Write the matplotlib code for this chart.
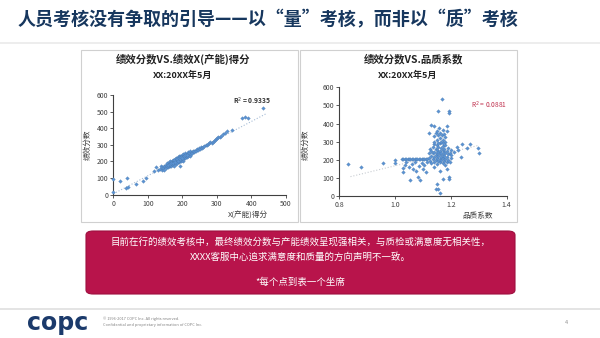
import numpy as np
import matplotlib
matplotlib.use('Agg')
import matplotlib.pyplot as plt
from matplotlib.patches import Rectangle, FancyBboxPatch

plt.rcParams['font.family'] = ['Noto Sans CJK SC', 'DejaVu Sans']

# ---- data ----
# left: X(产能)得分 vs 绩效分数
left_x = [0, 0, 20, 40, 38, 42, 65, 85, 95, 118, 125, 130,
          135, 138, 140, 142, 145, 147, 148, 150, 152, 153, 155, 156, 158, 160, 160,
          162, 163, 165, 165, 167, 168, 170, 170, 172, 173, 174, 175, 176, 177, 178,
          180, 180, 181, 182, 183, 184, 185, 186, 187, 188, 189, 190, 190, 191, 192,
          193, 194, 195, 196, 197, 198, 199, 200, 200, 201, 202, 203, 205, 206, 207,
          208, 210, 211, 212, 214, 215, 216, 218, 220, 221, 223, 225, 227, 229, 231,
          233, 235, 238, 240, 243, 246, 249, 252, 255, 258, 261, 264, 268, 271, 274,
          278, 281, 285, 288, 291, 294, 297, 300, 303, 308, 312, 318, 322, 328, 343,
          372, 381, 389, 434,
          158, 163, 168, 172, 176, 179, 183, 186, 189, 192, 196, 199, 204, 209, 213]
left_y = [95, 15, 85, 100, 40, 45, 65, 85, 100, 140, 165, 150,
          155, 170, 150, 165, 160, 175, 150, 170, 180, 160, 175, 190, 165, 185, 170,
          195, 175, 180, 200, 190, 170, 185, 205, 195, 180, 210, 190, 200, 175, 215,
          195, 205, 185, 220, 200, 210, 190, 225, 205, 215, 195, 230, 210, 200, 220,
          175, 235, 215, 205, 225, 240, 210, 220, 230, 200, 245, 215, 225, 235, 250,
          220, 230, 240, 225, 245, 235, 255, 240, 250, 230, 260, 245, 255, 250, 265,
          255, 260, 270, 262, 275, 270, 280, 278, 285, 282, 290, 295, 298, 300, 305,
          310, 315, 312, 320, 325, 330, 335, 340, 345, 350, 355, 365, 372, 384, 390,
          460, 466, 460, 524,
          178, 186, 192, 188, 206, 196, 212, 202, 222, 212, 228, 218, 232, 238, 236]
left_fit = [1.09, 5]          # slope, intercept of the trendline
left_fit_x = [0, 445]
left_r2 = 'R$^2$ = 0.9335'

# right: 品质系数 vs 绩效分数
right_x = [0.832, 0.878, 0.958, 1.0, 1.0,
           1.025, 1.03, 1.035, 1.04, 1.045, 1.05, 1.055, 1.06, 1.065, 1.07, 1.075, 1.08,
           1.085, 1.09, 1.095, 1.10, 1.105, 1.11, 1.115,
           1.027, 1.027, 1.035, 1.04, 1.05, 1.054, 1.06, 1.065, 1.07, 1.075, 1.083, 1.09,
           1.085, 1.095, 1.10, 1.105, 1.11, 1.115,
           1.12, 1.12, 1.125, 1.125, 1.13, 1.13, 1.13, 1.135, 1.135, 1.135, 1.14, 1.14,
           1.14, 1.14, 1.145, 1.145, 1.145, 1.15, 1.15, 1.15, 1.15, 1.15, 1.155, 1.155,
           1.155, 1.155, 1.16, 1.16, 1.16, 1.16, 1.16, 1.165, 1.165, 1.165, 1.165, 1.17,
           1.17, 1.17, 1.17, 1.17, 1.175, 1.175, 1.175, 1.175, 1.18, 1.18, 1.18, 1.18,
           1.185, 1.185, 1.185, 1.19, 1.19, 1.19, 1.195, 1.195, 1.2, 1.2,
           1.12, 1.128, 1.138, 1.14, 1.145, 1.15, 1.15, 1.155, 1.158, 1.16, 1.162, 1.165,
           1.168, 1.17, 1.172, 1.175, 1.178, 1.18, 1.185, 1.185, 1.14, 1.155, 1.17,
           1.155, 1.169, 1.193, 1.193,
           1.147, 1.155, 1.149, 1.161, 1.193, 1.193, 1.171, 1.16, 1.185, 1.14,
           1.20, 1.21, 1.221, 1.235, 1.239, 1.257, 1.27, 1.296, 1.302, 1.225]
right_y = [175, 158, 184, 199, 180,
           205, 203, 206, 204, 205, 203, 206, 204, 205, 203, 206, 204,
           205, 203, 206, 204, 205, 203, 206,
           153, 133, 170, 185, 160, 88, 175, 150, 190, 140, 107, 88,
           165, 180, 150, 170, 130, 185,
           210, 240, 195, 260, 220, 180, 250, 205, 235, 270, 190, 215,
           245, 285, 200, 225, 260, 175, 210, 235, 255, 280, 195, 220,
           245, 270, 185, 205, 230, 250, 290, 200, 215, 240, 265, 180,
           210, 225, 255, 275, 195, 220, 245, 260, 170, 205, 235, 280,
           190, 215, 250, 200, 230, 265, 185, 240, 210, 255,
           345, 390, 385, 330, 345, 360, 310, 335, 375, 320, 350, 300,
           335, 365, 310, 340, 300, 325, 385, 360, 300, 295, 295,
           471, 534, 471, 456,
           37, 37, 66, 15, 107, 92, 92, 140, 150, 160,
           226, 244, 272, 214, 287, 263, 287, 263, 239, 255]
right_fit = [376, -209]
right_fit_x = [0.84, 1.30]
right_r2 = 'R$^2$ = 0.0881'

navy = '#17375E'
dot = '#5B93D3'

fig = plt.figure(figsize=(6, 3.38), dpi=100)
W, H = 600, 338

def box(x0, y0, x1, y1, **kw):
    # pixel coords (top-left origin) -> figure fraction
    return Rectangle((x0 / W, 1 - y1 / H), (x1 - x0) / W, (y1 - y0) / H,
                     transform=fig.transFigure, zorder=-1, **kw)

# title + separators
fig.text(18 / W, 1 - 20 / H, '人员考核没有争取的引导——以“量”考核，而非以“质”考核',
         fontsize=13, fontweight='bold', color=navy, va='center', ha='left')
fig.patches.append(box(0, 42, 600, 44, color='#EDEDED', lw=0))
fig.patches.append(box(0, 308, 600, 309.5, color='#E4E4E4', lw=0))

# chart panels
fig.patches.append(box(81, 50, 298, 222, facecolor='white', edgecolor='#D0D0D0', lw=0.8))
fig.patches.append(box(300, 50, 517, 222, facecolor='white', edgecolor='#D0D0D0', lw=0.8))

def style(ax):
    for s in ['top', 'right']:
        ax.spines[s].set_visible(False)
    for s in ['left', 'bottom']:
        ax.spines[s].set_color('#404040')
        ax.spines[s].set_linewidth(0.8)
    ax.tick_params(labelsize=5, length=2, width=0.6, colors='#404040', pad=1.5)
    ax.patch.set_alpha(0)

# left chart
ax1 = fig.add_axes([113.3 / W, 1 - 194.7 / H, 172.7 / W, 99.7 / H])
ax1.scatter(left_x, left_y, s=3.5, marker='D', color=dot, edgecolors='#4A7AAE',
            linewidths=0.2, zorder=3, clip_on=False)
fx = np.array(left_fit_x)
ax1.plot(fx, left_fit[0] * fx + left_fit[1], ':', color='#A6BCD6', lw=0.8, zorder=2)
ax1.set_xlim(0, 500)
ax1.set_ylim(0, 600)
ax1.set_xticks([0, 100, 200, 300, 400, 500])
ax1.set_yticks([0, 100, 200, 300, 400, 500, 600])
style(ax1)
ax1.text(403, 560, left_r2, fontsize=4.8, fontweight='bold', color='#333333',
         ha='center', va='center')
fig.text(183 / W, 1 - 59 / H, '绩效分数VS.绩效X(产能)得分', fontsize=7.5,
         fontweight='bold', ha='center', va='center', color='#222222')
fig.text(183 / W, 1 - 75 / H, 'XX:20XX年5月', fontsize=6.5,
         fontweight='bold', ha='center', va='center', color='#222222')
fig.text(88 / W, 1 - 145 / H, '绩效分数', fontsize=5.5, rotation=90,
         ha='center', va='center', color='#404040')
fig.text(248 / W, 1 - 216 / H, 'X(产能)得分', fontsize=5.5,
         ha='center', va='center', color='#404040')

# right chart
ax2 = fig.add_axes([339.3 / W, 1 - 196 / H, 167.4 / W, 108.7 / H])
ax2.scatter(right_x, right_y, s=3.5, marker='D', color=dot, edgecolors='#4A7AAE',
            linewidths=0.2, zorder=3)
fx = np.array(right_fit_x)
ax2.plot(fx, right_fit[0] * fx + right_fit[1], ':', color='#C8CCD2', lw=0.8, zorder=2)
ax2.set_xlim(0.8, 1.4)
ax2.set_ylim(0, 600)
ax2.set_xticks([0.8, 1.0, 1.2, 1.4])
ax2.set_xticklabels(['0.8', '1.0', '1.2', '1.4'])
ax2.set_yticks([0, 100, 200, 300, 400, 500, 600])
style(ax2)
ax2.text(1.337, 498, right_r2, fontsize=4.8, color='#C0304D', ha='center', va='center')
fig.text(413 / W, 1 - 59 / H, '绩效分数VS.品质系数', fontsize=7.5,
         fontweight='bold', ha='center', va='center', color='#222222')
fig.text(408 / W, 1 - 75 / H, 'XX:20XX年5月', fontsize=6.5,
         fontweight='bold', ha='center', va='center', color='#222222')
fig.text(306 / W, 1 - 145 / H, '绩效分数', fontsize=5.5, rotation=90,
         ha='center', va='center', color='#404040')
fig.text(478 / W, 1 - 216 / H, '品质系数', fontsize=5.5,
         ha='center', va='center', color='#404040')

# crimson callout
callout = FancyBboxPatch((86 / W, 1 - 294 / H), 429 / W, 63 / H,
                         boxstyle='round,pad=0,rounding_size=0.012',
                         transform=fig.transFigure, facecolor='#B8144B',
                         edgecolor='#9E0F3F', lw=0.8)
fig.patches.append(callout)
fig.text(300 / W, 1 - 242 / H,
         '目前在行的绩效考核中，最终绩效分数与产能绩效呈现强相关，与质检或满意度无相关性，',
         fontsize=6.8, color='white', ha='center', va='center')
fig.text(300 / W, 1 - 257 / H, 'XXXX客服中心追求满意度和质量的方向声明不一致。',
         fontsize=6.8, color='white', ha='center', va='center')
fig.text(300 / W, 1 - 282 / H, '*每个点到表一个坐席',
         fontsize=6.8, color='white', ha='center', va='center')

# footer
fig.text(27 / W, 1 - 323 / H, 'copc', fontsize=17, fontweight='heavy',
         color='#1B3A6B', ha='left', va='center', family='DejaVu Sans')
fig.text(103 / W, 1 - 319 / H, '© 1996-2017 COPC Inc. All rights reserved.',
         fontsize=2.8, color='#808080', ha='left', va='center')
fig.text(103 / W, 1 - 325 / H, 'Confidential and proprietary information of COPC Inc.',
         fontsize=2.8, color='#808080', ha='left', va='center')
fig.text(566 / W, 1 - 322 / H, '4', fontsize=4, color='#909090',
         ha='center', va='center')

fig.savefig('out.png', dpi=100)
